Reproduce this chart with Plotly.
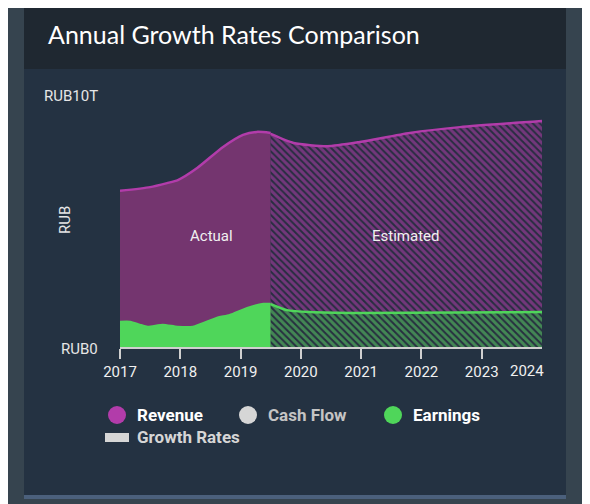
import plotly.graph_objects as go

# ---- data (values in trillions RUB) ----
rev_act_x = [2017.0, 2017.5, 2017.78, 2017.96, 2018.28, 2018.71, 2019.04, 2019.27, 2019.5]
rev_act_y = [6.22, 6.37, 6.53, 6.65, 7.13, 7.97, 8.45, 8.57, 8.53]
rev_est_x = [2019.5, 2019.88, 2020.44, 2020.98, 2021.81, 2022.64, 2024.0]
rev_est_y = [8.49, 8.13, 8.0, 8.17, 8.53, 8.76, 9.0]

earn_act_x = [2017.0, 2017.17, 2017.33, 2017.46, 2017.71, 2017.95, 2018.21, 2018.61, 2018.82, 2019.11, 2019.38, 2019.5]
earn_act_y = [1.0, 1.0, 0.88, 0.80, 0.88, 0.80, 0.80, 1.16, 1.27, 1.55, 1.71, 1.71]
earn_est_x = [2019.5, 2019.77, 2020.15, 2020.98, 2024.0]
earn_est_y = [1.71, 1.47, 1.39, 1.35, 1.39]

x_ticks = [2017, 2018, 2019, 2020, 2021, 2022, 2023]
x_last_label = 2024
y_ticks = [0, 10]
y_tick_text = ["RUB0", "RUB10T"]

OFF = 8  # page body margin
W, H = 590, 504
# plot area in screen coords: x 120..542, y 96..347
L = 120 - OFF
T = 96 - OFF
R = W - (542 - OFF)
B = H - (347 - OFF)
PW, PH = W - L - R, H - T - B

def px(x):
    return (x - OFF - L) / PW

def py(y):
    return (H - B - (y - OFF)) / PH

REV_LINE = "#b23caa"
REV_FILL = "#74356f"
EARN = "#4fd65a"
CARD = "#243242"
HATCH_BG = "#272e40"

fig = go.Figure()

fig.add_trace(go.Scatter(x=rev_act_x, y=rev_act_y, mode="lines", fill="tozeroy",
                         fillcolor=REV_FILL, line=dict(color=REV_LINE, width=2.5, shape="spline", smoothing=0.6),
                         hoverinfo="skip", showlegend=False))
fig.add_trace(go.Scatter(x=rev_est_x, y=rev_est_y, mode="lines", fill="tozeroy",
                         fillcolor=HATCH_BG,
                         fillpattern=dict(shape="\\", fgcolor="#c040b6", bgcolor=HATCH_BG, size=5, solidity=0.6),
                         line=dict(color=REV_LINE, width=2.5, shape="spline", smoothing=0.6),
                         hoverinfo="skip", showlegend=False))
fig.add_trace(go.Scatter(x=earn_act_x, y=earn_act_y, mode="lines", fill="tozeroy",
                         fillcolor=EARN, line=dict(color=EARN, width=2.5, shape="spline", smoothing=0.6),
                         hoverinfo="skip", showlegend=False))
fig.add_trace(go.Scatter(x=earn_est_x, y=earn_est_y, mode="lines", fill="tozeroy",
                         fillcolor=HATCH_BG,
                         fillpattern=dict(shape="\\", fgcolor="#5fe068", bgcolor=HATCH_BG, size=5, solidity=0.6),
                         line=dict(color=EARN, width=2.5, shape="spline", smoothing=0.6),
                         hoverinfo="skip", showlegend=False))

shapes = []
shapes.append(dict(type="rect", xref="paper", yref="paper", x0=px(24), x1=px(566), y0=py(3), y1=py(498),
                   fillcolor=CARD, line=dict(width=0), layer="below"))
shapes.append(dict(type="rect", xref="paper", yref="paper", x0=px(24), x1=px(566), y0=py(5), y1=py(69),
                   fillcolor="#1f2831", line=dict(width=0), layer="below"))
shapes.append(dict(type="rect", xref="paper", yref="paper", x0=px(24), x1=px(566), y0=py(3), y1=py(6),
                   fillcolor="#4b607c", line=dict(width=0), layer="below"))
shapes.append(dict(type="rect", xref="paper", yref="paper", x0=px(24), x1=px(566), y0=py(495), y1=py(499),
                   fillcolor="#4b607c", line=dict(width=0), layer="below"))
for cx, col in [(117, "#b23caa"), (248, "#d6d6d6"), (393, EARN)]:
    shapes.append(dict(type="circle", xref="paper", yref="paper", x0=px(cx - 9), x1=px(cx + 9),
                       y0=py(415 + 9), y1=py(415 - 9), fillcolor=col, line=dict(width=0)))
shapes.append(dict(type="rect", xref="paper", yref="paper", x0=px(105), x1=px(129), y0=py(442), y1=py(433),
                   fillcolor="#d6d6d6", line=dict(width=0)))

TXT = "#f0f0f0"
annotations = []
annotations.append(dict(text="Annual Growth Rates Comparison", xref="paper", yref="paper", x=px(46), y=py(34),
                        xanchor="left", yanchor="middle", showarrow=False,
                        font=dict(family="Lato", size=25, color="#ffffff")))
annotations.append(dict(text="Actual", x=2018.52, y=4.42, showarrow=False,
                        font=dict(family="Roboto", size=15, color=TXT)))
annotations.append(dict(text="Estimated", x=2021.74, y=4.42, showarrow=False,
                        font=dict(family="Roboto", size=15, color=TXT)))
annotations.append(dict(text=str(x_last_label), x=x_last_label, y=0, xanchor="right", yanchor="top",
                        xshift=4, yshift=-13,
                        showarrow=False, font=dict(family="Roboto", size=15, color=TXT)))
for v, t in zip(y_ticks, y_tick_text):
    annotations.append(dict(text=t, xref="paper", x=px(100), y=v, xanchor="right", yanchor="middle",
                            yshift=-2 if v == 0 else 0, showarrow=False,
                            font=dict(family="Roboto", size=15, color="#e6e6e6")))
annotations.append(dict(text="RUB", xref="paper", yref="paper", x=px(54), y=py(220), textangle=-90,
                        showarrow=False, font=dict(family="Roboto", size=15, color="#e6e6e6")))
for cx, txt, col in [(135, "Revenue", "#ffffff"), (266, "Cash Flow", "#c4c4c4"), (411, "Earnings", "#ffffff"),
                     (135, "Growth Rates", "#d6d6d6")]:
    yy = 415 if txt != "Growth Rates" else 437
    annotations.append(dict(text="<b>" + txt + "</b>", xref="paper", yref="paper", x=px(cx), y=py(yy),
                            xanchor="left", yanchor="middle", showarrow=False,
                            font=dict(family="Roboto", size=17, color=col)))

fig.update_layout(
    width=W, height=H,
    margin=dict(l=L, r=R, t=T, b=B),
    paper_bgcolor="#36444f",
    plot_bgcolor="rgba(0,0,0,0)",
    shapes=shapes,
    annotations=annotations,
    showlegend=False,
    xaxis=dict(range=[2017, 2024], tickvals=x_ticks, ticktext=[str(v) for v in x_ticks],
               showgrid=False, zeroline=False, showline=True, linecolor="#d0d0d0", linewidth=1.5,
               ticks="outside", ticklen=10, tickcolor="#d0d0d0", tickwidth=1.5,
               tickfont=dict(family="Roboto", size=15, color=TXT)),
    yaxis=dict(range=[0, 10], showticklabels=False, showgrid=False, zeroline=False,
               showline=False, ticks=""),
)

fig.write_html("out.html")
